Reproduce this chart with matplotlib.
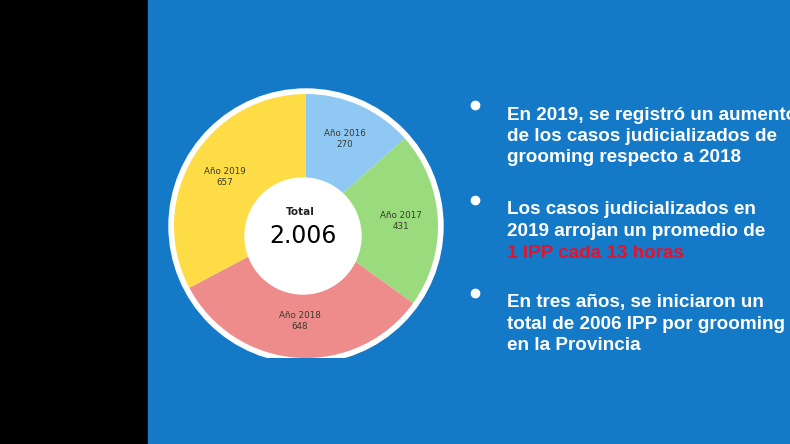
import numpy as np
import matplotlib.pyplot as plt
from matplotlib.patches import Rectangle, Circle

# data
years = ['Año 2016', 'Año 2017', 'Año 2018', 'Año 2019']
cases = [270, 431, 648, 657]
colors = ['#90C8F4', '#9ADB7E', '#EE8C8C', '#FDDC45']
total_label = '2.006'

bullets = [
    ['En 2019, se registró un aumento', 'de los casos judicializados de', 'grooming respecto a 2018'],
    ['Los casos judicializados en', '2019 arrojan un promedio de', '1 IPP cada 13 horas'],
    ['En tres años, se iniciaron un', 'total de 2006 IPP por grooming', 'en la Provincia'],
]
red_lines = {(1, 2)}

W, H = 790, 444
BLUE = '#1479C7'

fig = plt.figure(figsize=(7.9, 4.44), dpi=100)
ax = fig.add_axes([0, 0, 1, 1])

def Y(y):
    return H - y

# background: black strip + blue slide
ax.add_patch(Rectangle((0, 0), 148, H, color='black', zorder=0))
ax.add_patch(Rectangle((148, 0), W - 148, H, color=BLUE, zorder=0))

cx, cy = 306, 226
clip = Rectangle((0, Y(358)), W, H, transform=ax.transData)

ring = Circle((cx, Y(cy)), 137, color='white', zorder=1)
ax.add_patch(ring)
ring.set_clip_path(clip)

wedges, _ = ax.pie(cases, colors=colors, startangle=90, counterclock=False,
                   center=(cx, Y(cy)), radius=132, frame=True,
                   wedgeprops=dict(linewidth=0))
for w in wedges:
    w.set_clip_path(clip)
    w.set_zorder(2)
ax.set_xlim(0, W)
ax.set_ylim(0, H)
ax.set_aspect('auto')
ax.axis('off')

# labels inside the wedges
for w, yr, n in zip(wedges, years, cases):
    ang = np.deg2rad((w.theta1 + w.theta2) / 2)
    r = 95
    ax.text(cx + r * np.cos(ang), Y(cy) + r * np.sin(ang), f'{yr}\n{n}',
            ha='center', va='center', fontsize=6.3, color='#3a3a2a',
            linespacing=1.3, zorder=4)

hole = Circle((303, Y(236)), 58, color='white', zorder=3)
ax.add_patch(hole)
ax.text(300, Y(212), 'Total', ha='center', va='center', fontsize=7.5,
        fontweight='bold', color='#222222', zorder=4)
ax.text(303, Y(236), total_label, ha='center', va='center', fontsize=17,
        color='black', zorder=4)

# bullet list on the right
tops = [115, 210, 303]
for i, (para, y0) in enumerate(zip(bullets, tops)):
    ax.plot(475, Y(y0 - 10), 'o', color='white', markersize=6, zorder=4)
    for j, line in enumerate(para):
        col = '#E8102A' if (i, j) in red_lines else 'white'
        ax.text(507, Y(y0 + j * 21.5), line, ha='left', va='center',
                fontsize=13.6, fontweight='bold', color=col,
                family='Liberation Sans', zorder=4)

fig.savefig('out.png', dpi=100)
